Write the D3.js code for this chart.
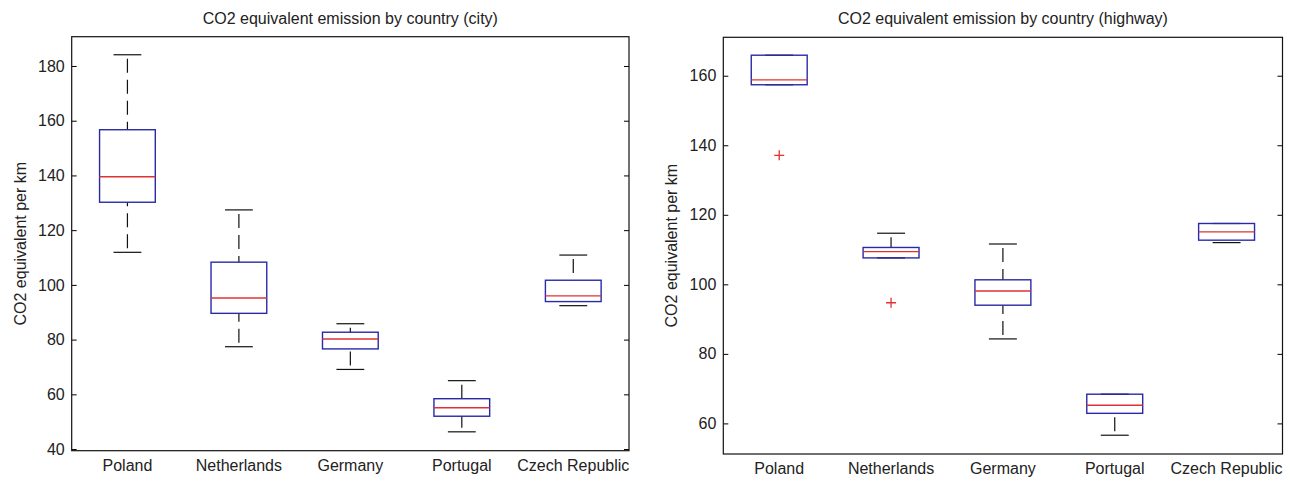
<!DOCTYPE html>
<html>
<head>
<meta charset="utf-8">
<script src="https://cdn.jsdelivr.net/npm/d3@7"></script>
<style>
  body { margin: 0; background: #fff; }
  text { font-family: "Liberation Sans", Arial, sans-serif; fill: #222; }
</style>
</head>
<body>
<div id="chart"></div>
<script>
var countries = ["Poland", "Netherlands", "Germany", "Portugal", "Czech Republic"]

// city driving
var cityLow    = [111.9, 77.4, 69.1, 46.3, 92.4]
var cityQ1     = [130.2, 89.6, 76.6, 52.0, 93.9]
var cityMedian = [139.5, 95.2, 80.2, 55.1, 96.0]
var cityQ3     = [156.7, 108.3, 82.7, 58.4, 101.7]
var cityHigh   = [184.1, 127.4, 85.8, 65.0, 110.9]
var cityOutliers = []
var cityTicks  = [40, 60, 80, 100, 120, 140, 160, 180]

// highway driving
var hwyLow     = [157.4, 107.6, 84.3, 56.6, 112.0]
var hwyQ1      = [157.4, 107.6, 94.0, 62.9, 112.7]
var hwyMedian  = [158.8, 109.4, 98.1, 65.2, 115.1]
var hwyQ3      = [165.9, 110.6, 101.3, 68.4, 117.5]
var hwyHigh    = [165.9, 114.7, 111.6, 68.4, 117.5]
var hwyOutliers = [{ c: 0, v: 137.1 }, { c: 1, v: 94.7 }]
var hwyTicks   = [60, 80, 100, 120, 140, 160]

var width = 1295, height = 477

var svg = d3.select("#chart")
  .append("svg")
  .attr("width", width)
  .attr("height", height)

function boxPanel(opt) {
  var x = d3.scaleLinear().domain([0.5, 5.5]).range([opt.left, opt.right])
  var y = d3.scaleLinear().domain(opt.yDomain).range([opt.bottom, opt.top])
  var g = svg.append("g")

  var stats = countries.map(function (c, i) {
    return { name: c, pos: i + 1, lo: opt.low[i], q1: opt.q1[i], med: opt.med[i], q3: opt.q3[i], hi: opt.high[i] }
  })

  // y ticks, left (inside) and right (inside)
  var leftAxis = d3.axisLeft(y).tickValues(opt.ticks).tickSize(-5).tickPadding(7).tickFormat(d3.format("d"))
  var la = g.append("g").attr("transform", "translate(" + opt.left + ",0)").call(leftAxis)
  la.select(".domain").remove()
  la.selectAll("text").style("font-size", "16px").attr("fill", "#222").style("font-family", "'Liberation Sans', Arial, sans-serif")
  la.selectAll("line").attr("stroke", "#000")

  var rightAxis = d3.axisRight(y).tickValues(opt.ticks).tickSize(-5).tickFormat("")
  var ra = g.append("g").attr("transform", "translate(" + opt.right + ",0)").call(rightAxis)
  ra.select(".domain").remove()
  ra.selectAll("line").attr("stroke", "#000")

  // frame
  g.append("rect")
    .attr("x", opt.left).attr("y", opt.top)
    .attr("width", opt.right - opt.left).attr("height", opt.bottom - opt.top)
    .attr("fill", "none").attr("stroke", "#111").attr("stroke-width", 1.2)

  // category labels
  g.selectAll(".cat")
    .data(stats)
    .enter()
    .append("text")
    .attr("x", function (d) { return x(d.pos) })
    .attr("y", opt.bottom + 20)
    .attr("text-anchor", "middle")
    .style("font-size", "16px")
    .text(function (d) { return d.name })

  var half = 0.25, cap = 0.125

  // whiskers (dashed)
  g.selectAll(".wup")
    .data(stats.filter(function (d) { return d.hi > d.q3 }))
    .enter()
    .append("line")
    .attr("x1", function (d) { return x(d.pos) }).attr("x2", function (d) { return x(d.pos) })
    .attr("y1", function (d) { return y(d.hi) }).attr("y2", function (d) { return y(d.q3) })
    .attr("stroke", "#111").attr("stroke-width", 1.2)
    .attr("stroke-dasharray", "14,7").attr("stroke-dashoffset", 17)
  g.selectAll(".wlo")
    .data(stats.filter(function (d) { return d.lo < d.q1 }))
    .enter()
    .append("line")
    .attr("x1", function (d) { return x(d.pos) }).attr("x2", function (d) { return x(d.pos) })
    .attr("y1", function (d) { return y(d.lo) }).attr("y2", function (d) { return y(d.q1) })
    .attr("stroke", "#111").attr("stroke-width", 1.2)
    .attr("stroke-dasharray", "14,7").attr("stroke-dashoffset", 17)

  // caps
  g.selectAll(".caps")
    .data(stats)
    .enter()
    .append("g")
    .each(function (d) {
      var s = d3.select(this)
      ;[d.hi, d.lo].forEach(function (v) {
        s.append("line")
          .attr("x1", x(d.pos - cap)).attr("x2", x(d.pos + cap))
          .attr("y1", y(v)).attr("y2", y(v))
          .attr("stroke", "#111").attr("stroke-width", 1.2)
      })
    })

  // boxes
  g.selectAll(".box")
    .data(stats)
    .enter()
    .append("rect")
    .attr("x", function (d) { return x(d.pos - half) })
    .attr("width", function (d) { return x(d.pos + half) - x(d.pos - half) })
    .attr("y", function (d) { return y(d.q3) })
    .attr("height", function (d) { return y(d.q1) - y(d.q3) })
    .attr("fill", "none").attr("stroke", "#2a2aa8").attr("stroke-width", 1.4)

  // medians
  g.selectAll(".med")
    .data(stats)
    .enter()
    .append("line")
    .attr("x1", function (d) { return x(d.pos - half) }).attr("x2", function (d) { return x(d.pos + half) })
    .attr("y1", function (d) { return y(d.med) }).attr("y2", function (d) { return y(d.med) })
    .attr("stroke", "#e03232").attr("stroke-width", 1.4)

  // outliers
  g.selectAll(".out")
    .data(opt.outliers)
    .enter()
    .append("path")
    .attr("d", function (d) {
      var cx = x(d.c + 1), cy = y(d.v)
      return "M" + (cx - 5) + "," + cy + "H" + (cx + 5) + "M" + cx + "," + (cy - 5) + "V" + (cy + 5)
    })
    .attr("stroke", "#e03232").attr("stroke-width", 1.3)

  // title
  g.append("text")
    .attr("x", (opt.left + opt.right) / 2)
    .attr("y", opt.top - 13)
    .attr("text-anchor", "middle")
    .style("font-size", "16px")
    .text(opt.title)

  // y label
  g.append("text")
    .attr("transform", "translate(" + (opt.left - 46) + "," + ((opt.top + opt.bottom) / 2) + ") rotate(-90)")
    .attr("text-anchor", "middle")
    .style("font-size", "16px")
    .text("CO2 equivalent per km")
}

boxPanel({
  left: 71.7, right: 629, top: 36.7, bottom: 450.7,
  yDomain: [39.4, 190.7],
  low: cityLow, q1: cityQ1, med: cityMedian, q3: cityQ3, high: cityHigh,
  outliers: cityOutliers, ticks: cityTicks,
  title: "CO2 equivalent emission by country (city)"
})

boxPanel({
  left: 723.3, right: 1282.5, top: 37.3, bottom: 454,
  yDomain: [51.2, 171.05],
  low: hwyLow, q1: hwyQ1, med: hwyMedian, q3: hwyQ3, high: hwyHigh,
  outliers: hwyOutliers, ticks: hwyTicks,
  title: "CO2 equivalent emission by country (highway)"
})
</script>
</body>
</html>
